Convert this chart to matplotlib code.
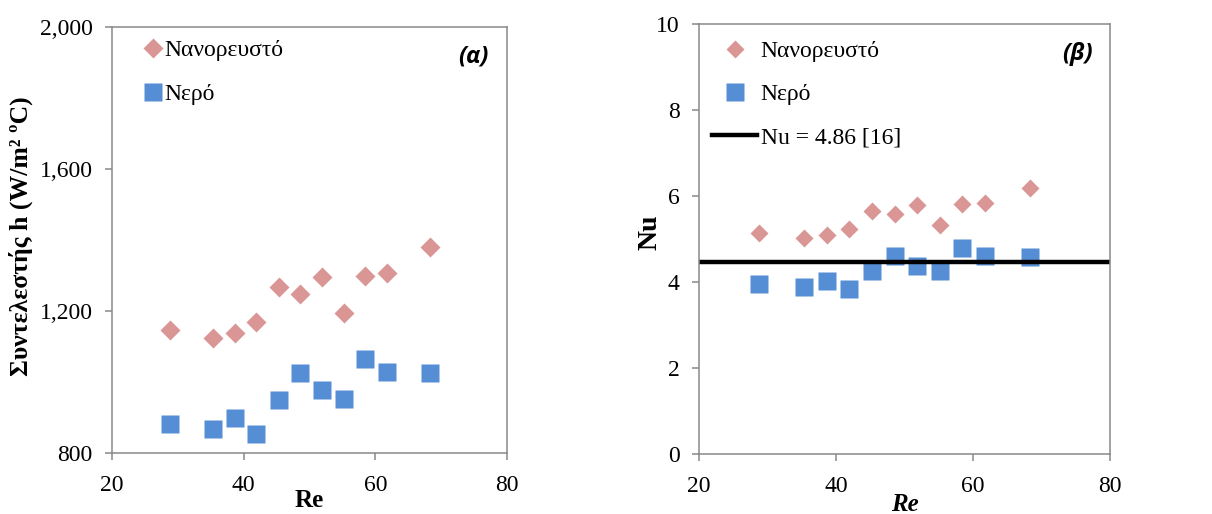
import numpy as np
import matplotlib
matplotlib.use("Agg")
import matplotlib.pyplot as plt
from matplotlib.ticker import FuncFormatter
from matplotlib.lines import Line2D

plt.rcParams["font.family"] = ["Liberation Serif", "DejaVu Serif"]

# ─── Data ─────────────────────────────────────────────────────────────────────
re_vals = [28.8, 35.4, 38.7, 41.9, 45.3, 48.6, 51.9, 55.2, 58.4, 61.7, 68.3]

h_nano  = [1146, 1125, 1139, 1170, 1267, 1248, 1295, 1193, 1299, 1306, 1381]
h_water = [881, 867, 898, 854, 949, 1026, 977, 953, 1064, 1029, 1026]

nu_nano  = [5.13, 5.02, 5.09, 5.23, 5.66, 5.58, 5.79, 5.33, 5.81, 5.84, 6.18]
nu_water = [3.95, 3.88, 4.03, 3.83, 4.26, 4.60, 4.38, 4.26, 4.78, 4.60, 4.59]
nu_ref = 4.46   # where the reference line is drawn

labels = ["Νανορευστό", "Νερό", "Nu = 4.86 [16]"]
x_ticks  = [20, 40, 60, 80]
h_ticks  = [800, 1200, 1600, 2000]
nu_ticks = [0, 2, 4, 6, 8, 10]

PINK = "#D99694"
BLUE = "#558ED5"
SPINE = "#898989"
FS = 17

fig = plt.figure(figsize=(12.12, 5.14), dpi=100)
ax1 = fig.add_axes([0.0924, 0.1187, 0.3259, 0.8288])
ax2 = fig.add_axes([0.5767, 0.1167, 0.3391, 0.8366])

def style(ax):
    for s in ax.spines.values():
        s.set_color(SPINE); s.set_linewidth(1.1)
    ax.tick_params(direction="out", length=5, width=1.1, color=SPINE,
                   labelsize=FS, pad=9, top=False, right=False)
    ax.tick_params(axis="x", pad=11)
    ax.set_xlim(20, 80); ax.set_xticks(x_ticks)

# ─── (α) heat transfer coefficient ────────────────────────────────────────────
ax1.plot(re_vals, h_nano, "D", color=PINK, ms=10, mec="none", label=labels[0])
ax1.plot(re_vals, h_water, "s", color=BLUE, ms=13, mec="none", label=labels[1])
style(ax1)
ax1.set_ylim(800, 2000); ax1.set_yticks(h_ticks)
ax1.yaxis.set_major_formatter(FuncFormatter(lambda v, p: f"{v:,.0f}"))
ax1.set_xlabel("Re", fontsize=18, fontweight="bold", labelpad=-5)
ax1.set_ylabel("Συντελεστής h (W/m² ºC)", fontsize=18.5, fontweight="bold")
ax1.yaxis.set_label_coords(-0.2, 0.51)
ax1.legend(loc="upper left", bbox_to_anchor=(0.05, 1.0), frameon=False, fontsize=FS,
           handlelength=0.7, handletextpad=0.15, labelspacing=0.95, borderaxespad=0.15)
ax1.text(0.915, 0.93, "(α)", transform=ax1.transAxes, ha="center", va="center",
         fontsize=FS, fontweight="bold", style="italic", family="Open Sans")

# ─── (β) Nusselt number ───────────────────────────────────────────────────────
ax2.plot(re_vals, nu_nano, "D", color=PINK, ms=9, mec="none")
ax2.plot(re_vals, nu_water, "s", color=BLUE, ms=12.5, mec="none")
ax2.axhline(nu_ref, color="black", lw=3.2)
style(ax2)
ax2.set_ylim(0, 10); ax2.set_yticks(nu_ticks)
ax2.set_xlabel("Re", fontsize=18, fontweight="bold", style="italic", labelpad=-3)
ax2.set_ylabel("Nu", fontsize=20, fontweight="bold")
ax2.yaxis.set_label_coords(-0.088, 0.515)
handles = [Line2D([], [], ls="none", marker="D", color=PINK, ms=9, mec="none"),
           Line2D([], [], ls="none", marker="s", color=BLUE, ms=12.5, mec="none"),
           Line2D([], [], color="black", lw=3.2)]
ax2.legend(handles, labels, loc="upper left", bbox_to_anchor=(-0.008, 1.0), frameon=False,
           fontsize=FS, handlelength=1.9, handletextpad=0.15, labelspacing=0.92,
           borderaxespad=0.3)
ax2.text(0.92, 0.93, "(β)", transform=ax2.transAxes, ha="center", va="center",
         fontsize=FS, fontweight="bold", style="italic", family="Open Sans")

fig.savefig("out.png", dpi=100)
